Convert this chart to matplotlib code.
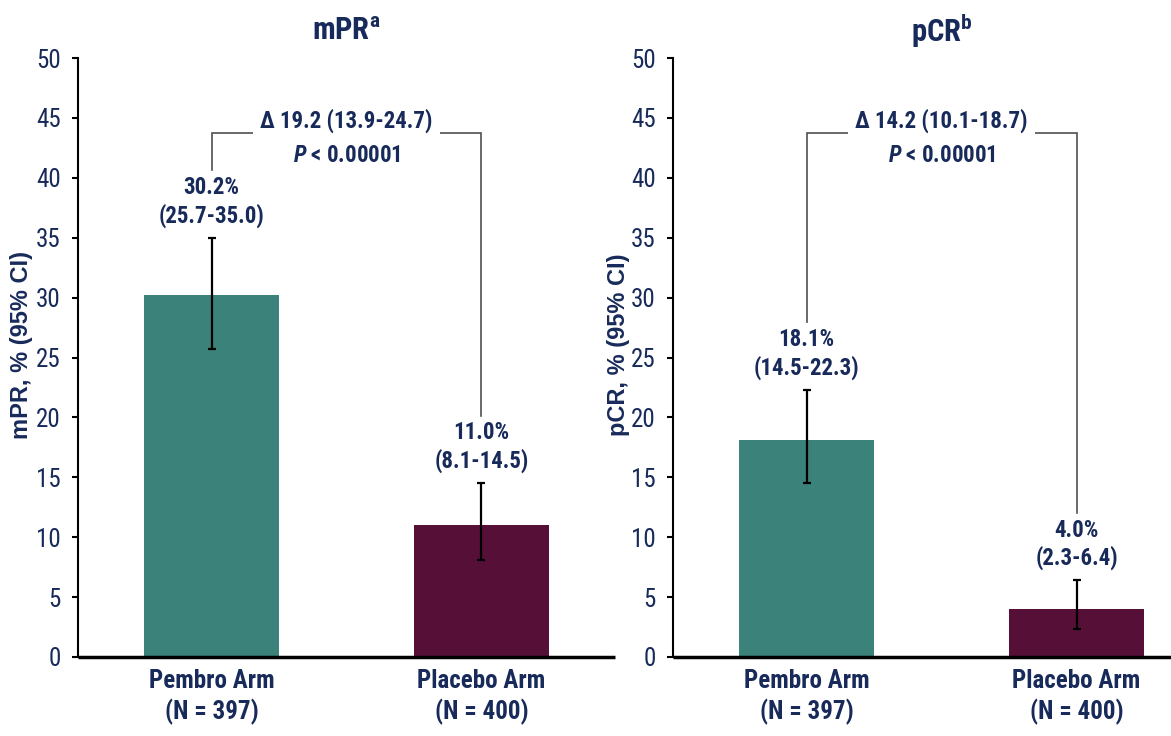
import matplotlib
matplotlib.use('Agg')
import matplotlib.pyplot as plt
from matplotlib import font_manager

# ---------------- data ----------------
arms = ['Pembro Arm\n(N = 397)', 'Placebo Arm\n(N = 400)']
mpr_values = [30.2, 11.0]
mpr_ci_low = [25.7, 8.1]
mpr_ci_high = [35.0, 14.5]
pcr_values = [18.1, 4.0]
pcr_ci_low = [14.5, 2.3]
pcr_ci_high = [22.3, 6.4]
mpr_delta = 'Δ 19.2 (13.9-24.7)'
pcr_delta = 'Δ 14.2 (10.1-18.7)'
p_value_text = '$P$ < 0.00001'
yticks = [0, 5, 10, 15, 20, 25, 30, 35, 40, 45, 50]

# ---------------- style ----------------
names = {f.name for f in font_manager.fontManager.ttflist}
FONT = 'Roboto Condensed'
for cand in ['Liberation Sans Narrow', 'Roboto Condensed', 'PT Sans Narrow', 'Liberation Sans']:
    if cand in names:
        FONT = cand
        break
LABEL_FONT = 'Liberation Sans' if 'Liberation Sans' in names else FONT

plt.rcParams['font.family'] = [FONT, 'DejaVu Sans']
plt.rcParams['mathtext.fontset'] = 'custom'
plt.rcParams['mathtext.rm'] = f'{FONT}:bold'
plt.rcParams['mathtext.it'] = f'{FONT}:bold:italic'
plt.rcParams['mathtext.bf'] = f'{FONT}:bold'

NAVY = '#172a5a'
TEAL = '#3b827a'
MAROON = '#560f36'
GRAY = '#505050'

fig = plt.figure(figsize=(11.71, 7.36), dpi=100)
W, H = 1171, 736


def panel(left_px, right_px, xlim, values, lo, hi, title, ylabel, delta, ylabel_x):
    bottom_px, top_px = 657, 58
    ax = fig.add_axes([left_px / W, 1 - bottom_px / H,
                       (right_px - left_px) / W, (bottom_px - top_px) / H])
    x = list(range(len(values)))
    yerr = [[v - l for v, l in zip(values, lo)], [h - v for v, h in zip(values, hi)]]
    ax.bar(x, values, width=0.5, color=[TEAL, MAROON], edgecolor='none', zorder=2)
    ax.errorbar(x, values, yerr=yerr, fmt='none', ecolor='black', elinewidth=1.6,
                capsize=3, capthick=1.6, zorder=3)
    ax.set_xlim(*xlim)
    ax.set_ylim(0, 50)
    ax.set_yticks(yticks)
    ax.set_yticklabels([str(t) for t in yticks], fontsize=18, color=NAVY)
    ax.tick_params(axis='y', length=4.5, width=1.5, pad=8, color='black')
    ax.set_xticks(x)
    ax.set_xticklabels(arms, fontsize=18, fontweight='bold', color=NAVY,
                       linespacing=1.25)
    ax.tick_params(axis='x', length=0, pad=9)
    for s in ['top', 'right']:
        ax.spines[s].set_visible(False)
    ax.spines['left'].set_linewidth(1.5)
    ax.spines['bottom'].set_linewidth(2.5)
    ax.spines['bottom'].set_capstyle('butt')

    # value labels
    for xi, v, l, h in zip(x, values, lo, hi):
        ax.text(xi, h + 4.2, f'{v:.1f}%', ha='center', va='center',
                fontsize=16.5, fontweight='bold', color=NAVY, zorder=4)
        ax.text(xi, h + 1.85, f'({l}-{h})', ha='center', va='center',
                fontsize=16.5, fontweight='bold', color=NAVY, zorder=4)

    # bracket
    yb = 43.75
    ax.plot([x[0], x[0], x[1], x[1]],
            [hi[0] + 5.65, yb, yb, hi[1] + 5.65],
            color=GRAY, lw=1.2, zorder=1, solid_joinstyle='miter')
    xm = (x[0] + x[1]) / 2
    ax.text(xm, 44.75, delta, ha='center', va='center', fontsize=16.5,
            fontweight='bold', color=NAVY, zorder=4,
            bbox=dict(boxstyle='square,pad=0.3', fc='white', ec='none'))
    ax.text(xm, 41.9, p_value_text, ha='center', va='center', fontsize=16.5,
            fontweight='bold', color=NAVY, zorder=4)

    # title
    fig.text((left_px + (xm - xlim[0]) / (xlim[1] - xlim[0]) * (right_px - left_px)) / W,
             1 - 31 / H, title, ha='center', va='center', fontsize=22,
             fontweight='bold', color=NAVY)
    # y label
    fig.text(ylabel_x / W, 1 - 345 / H, ylabel, rotation=90, ha='center', va='center',
             fontsize=17, fontweight='bold', color=NAVY, family=[LABEL_FONT, 'DejaVu Sans'])
    return ax


panel(78, 615, (-0.495, 1.495), mpr_values, mpr_ci_low, mpr_ci_high,
      r'mPR$^{\mathrm{a}}$', 'mPR, % (95% CI)', mpr_delta, 22)
panel(673, 1171, (-0.495, 1.35), pcr_values, pcr_ci_low, pcr_ci_high,
      r'pCR$^{\mathrm{b}}$', 'pCR, % (95% CI)', pcr_delta, 618)

fig.savefig('out.png', dpi=100)
